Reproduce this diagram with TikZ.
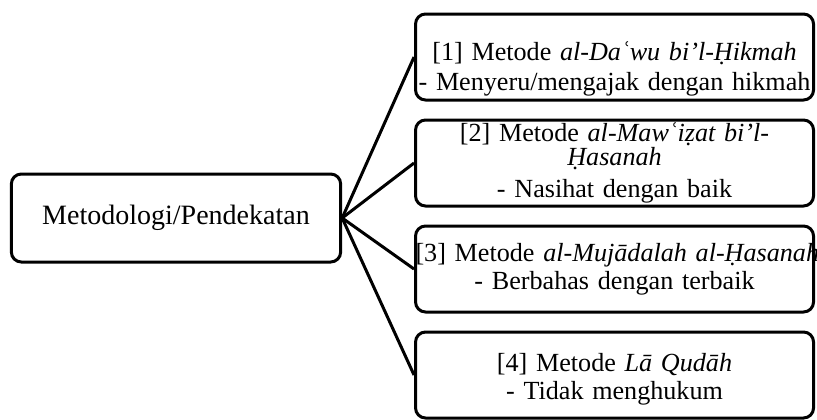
\documentclass[tikz,border=0pt]{standalone}
\usepackage{fontspec}
\setmainfont{Liberation Serif}
\usetikzlibrary{positioning}

\begin{document}
\begin{tikzpicture}[x=1pt,y=1pt,
    block_main/.style ={rectangle, draw=black, line width=2.25pt, fill=white,
      rounded corners=7.5pt, text width=240pt, align=center,
      minimum width=247pt, minimum height=66pt, inner sep=0pt,
      font=\fontsize{21}{23.5}\selectfont},
    block_method/.style ={rectangle, draw=black, line width=2.25pt, fill=white,
      rounded corners=7.5pt, text width=298.5pt, align=center,
      minimum width=298.5pt, minimum height=64.5pt, inner sep=0pt,
      font=\fontsize{19.6}{22.5}\selectfont},
    line/.style ={draw, line width=2.25pt},
    node distance=12.75pt]
    \useasboundingbox (0,0) rectangle (612.75,-314.25);
    % main node on the left
    \node [block_main] (approach) at (132,-163.5) {Metodologi/Pendekatan};
    % column of methods
    \node [block_method] (daw) at (460.9,-42.75)
      {\rule{0pt}{32pt}[1] Metode \textit{al-Daʿwu bi’l-Ḥikmah}\\
       \makebox[\linewidth]{- Menyeru/mengajak dengan hikmah}};
    \node [block_method, below=of daw] (mawizat)
      {\makebox[\linewidth]{[2] Metode \textit{al-Mawʿiẓat bi’l-}}\\[-4.5pt]
       \textit{Ḥasanah}\\[1.5pt]
       - Nasihat dengan baik};
    \node [block_method, below=of mawizat] (mujadalah)
      {\makebox[\linewidth][l]{[3] Metode \textit{al-Mujādalah al-Ḥasanah}}\\[-1.5pt]
       - Berbahas dengan terbaik};
    \node [block_method, below=of mujadalah] (laqudah)
      {\rule{0pt}{20pt}[4] Metode \textit{Lā Qudāh}\\[-1.5pt]
       - Tidak menghukum};
    % connecting nodes with paths
    \begin{scope}[every path/.style=line]
     \path (approach.east) -- (daw.west);
     \path (approach.east) -- (mawizat.west);
     \path (approach.east) -- (mujadalah.west);
     \path (approach.east) -- (laqudah.west);
    \end{scope}
  \end{tikzpicture}
\end{document}
